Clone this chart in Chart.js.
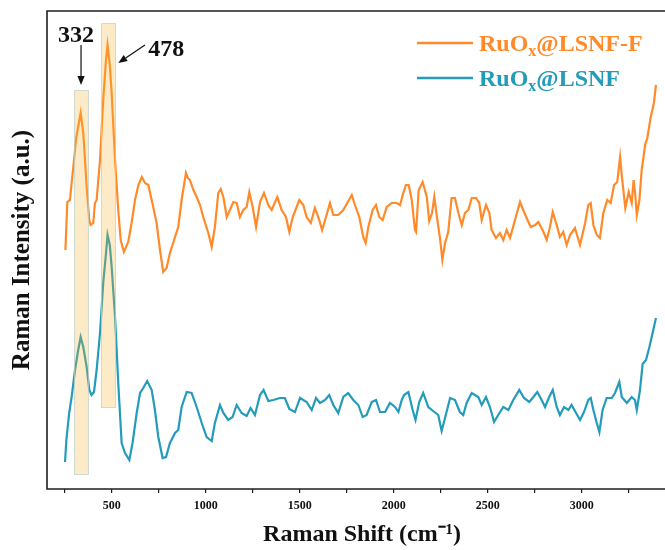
<!DOCTYPE html>
<html><head><meta charset="utf-8">
<script src="https://cdn.jsdelivr.net/npm/chart.js@4/dist/chart.umd.min.js"></script>
<style>html,body{margin:0;padding:0;background:#fff}canvas{display:block}</style>
</head><body>
<canvas id="c" width="665" height="550"></canvas>
<script>
// ---- data (Raman shift in cm^-1, intensity in arbitrary units) ----
const shiftF = [254,264,278,305,312,335,349,367,381,388,402,411,420,438,455,469,478,490,500,518,535,548,565,588,606,624,642,660,677,695,721,739,757,774,792,810,837,854,872,895,905,916,935,952,970,987,1014,1032,1049,1067,1080,1094,1112,1129,1147,1165,1182,1200,1218,1232,1250,1268,1289,1310,1333,1351,1381,1404,1427,1445,1463,1498,1519,1537,1559,1581,1604,1619,1640,1661,1679,1705,1732,1753,1777,1794,1817,1838,1851,1865,1888,1906,1923,1941,1963,1989,2016,2034,2051,2065,2080,2096,2113,2119,2133,2154,2176,2189,2204,2216,2230,2246,2259,2273,2290,2308,2326,2344,2362,2379,2397,2415,2438,2455,2468,2491,2509,2521,2544,2565,2583,2601,2619,2645,2672,2689,2707,2729,2752,2769,2792,2814,2831,2846,2867,2884,2902,2920,2938,2964,2991,3018,3035,3048,3062,3080,3097,3115,3136,3154,3172,3189,3204,3214,3232,3250,3266,3276,3285,3293,3307,3319,3328,3337,3349,3367,3384,3395];
const intensityF = [239,287,289,339,352,376,356,302,269,264,266,286,289,329,389,427,444,424,396,329,279,249,237,247,266,289,304,312,306,304,282,266,239,217,221,236,252,262,289,316,311,309,299,292,284,272,256,242,262,296,300,292,272,279,287,286,272,279,282,297,282,262,287,296,284,279,292,279,272,257,272,289,284,272,266,281,269,259,272,286,274,274,279,286,294,284,272,252,246,262,279,284,272,269,282,286,286,284,296,304,304,289,259,257,299,307,292,268,276,292,272,251,229,246,257,291,291,276,264,276,279,291,291,286,269,284,276,259,251,256,249,259,251,269,287,279,271,262,264,267,259,249,262,277,264,252,257,244,254,261,244,266,284,286,264,254,251,276,289,286,304,307,332,312,281,297,286,309,294,274,289,319,331,344,351,372,386,404];
const shiftP = [252,259,274,287,305,322,335,349,367,381,393,406,420,438,455,469,478,490,500,518,535,553,571,594,611,633,651,668,689,713,730,748,771,789,810,837,854,872,899,925,952,979,1005,1032,1049,1076,1094,1120,1143,1165,1191,1218,1239,1262,1289,1308,1333,1360,1395,1421,1445,1475,1502,1537,1564,1587,1608,1635,1657,1679,1705,1732,1758,1785,1812,1835,1856,1883,1906,1927,1954,1980,2007,2025,2043,2055,2078,2101,2116,2136,2157,2184,2210,2237,2255,2273,2300,2326,2352,2370,2388,2415,2450,2468,2491,2512,2534,2556,2583,2610,2636,2668,2693,2721,2743,2764,2787,2805,2827,2846,2867,2884,2906,2929,2946,2970,2991,3012,3035,3048,3062,3080,3094,3111,3133,3160,3177,3200,3213,3240,3266,3283,3293,3310,3324,3342,3360,3377,3395];
const intensityP = [27,49,76,92,119,139,152,142,122,99,94,97,119,156,206,234,254,244,222,172,106,46,36,29,46,76,96,101,108,99,79,52,31,32,46,56,59,82,97,96,82,66,52,48,66,84,76,69,72,84,76,73,81,74,94,99,88,89,91,91,80,77,91,87,79,91,86,89,94,84,76,92,96,89,84,72,74,87,89,77,77,86,82,77,89,94,97,79,69,87,96,82,78,74,58,71,91,89,77,74,86,96,92,84,92,82,67,74,82,79,89,99,91,87,92,97,89,82,92,99,82,74,82,79,84,76,69,77,89,91,79,66,57,79,91,91,96,107,92,86,92,89,79,99,125,129,142,156,171];
const seriesNames = ['RuO', 'RuO'];
const seriesSuffix = ['@LSNF-F', '@LSNF'];
const xTickValues = [250,500,750,1000,1250,1500,1750,2000,2250,2500,2750,3000,3250];
const xTickLabels = [500,1000,1500,2000,2500,3000];
const peakLabels = ['332','478'];
const peakShifts = [332,478];

// highlight bands (data units): [xFrom, xTo, yFrom, yTo]
const bands = [[300,379,14,399],[443,523,81,466]];

const ORANGE = '#FF8A2A';
const TEAL = '#239BBA';
const SERIF = '"Liberation Serif","Times New Roman",serif';

const pts = (xs, ys) => xs.map((x, i) => ({x, y: ys[i]}));

const decor = {
  id: 'decor',
  afterDatasetsDraw(chart) {
    const {ctx, scales: {x, y}} = chart;
    ctx.save();
    bands.forEach(b => {
      const x0 = x.getPixelForValue(b[0]), x1 = x.getPixelForValue(b[1]);
      const y0 = y.getPixelForValue(b[3]), y1 = y.getPixelForValue(b[2]);
      ctx.fillStyle = 'rgba(249,179,46,0.27)';
      ctx.fillRect(x0, y0, x1 - x0, y1 - y0);
      ctx.strokeStyle = 'rgba(185,212,212,0.7)';
      ctx.lineWidth = 1;
      ctx.strokeRect(x0 + 0.5, y0 + 0.5, x1 - x0 - 1, y1 - y0 - 1);
    });
    ctx.restore();
  },
  afterDraw(chart) {
    const {ctx, chartArea: a, scales: {x, y}} = chart;
    ctx.save();
    // frame (left, top, bottom)
    ctx.strokeStyle = '#1e1e1e';
    ctx.lineWidth = 1.6;
    ctx.beginPath();
    ctx.moveTo(a.right + 2, a.top);
    ctx.lineTo(a.left, a.top);
    ctx.lineTo(a.left, a.bottom);
    ctx.lineTo(a.right + 2, a.bottom);
    ctx.stroke();

    // peak annotations
    const arrow = (fx, fy, tx, ty) => {
      const X0 = x.getPixelForValue(fx), Y0 = y.getPixelForValue(fy);
      const X1 = x.getPixelForValue(tx), Y1 = y.getPixelForValue(ty);
      const ang = Math.atan2(Y1 - Y0, X1 - X0);
      const L = 9, W = 3.6;
      ctx.strokeStyle = '#111'; ctx.fillStyle = '#111'; ctx.lineWidth = 1.2;
      ctx.beginPath();
      ctx.moveTo(X0, Y0);
      ctx.lineTo(X1 - L * Math.cos(ang), Y1 - L * Math.sin(ang));
      ctx.stroke();
      ctx.beginPath();
      ctx.moveTo(X1, Y1);
      ctx.lineTo(X1 - L * Math.cos(ang) + W * Math.sin(ang), Y1 - L * Math.sin(ang) - W * Math.cos(ang));
      ctx.lineTo(X1 - L * Math.cos(ang) - W * Math.sin(ang), Y1 - L * Math.sin(ang) + W * Math.cos(ang));
      ctx.closePath();
      ctx.fill();
    };
    ctx.font = 'bold 24px ' + SERIF;
    ctx.fillStyle = '#111';
    ctx.textBaseline = 'alphabetic';
    ctx.textAlign = 'center';
    ctx.fillText(peakLabels[0], x.getPixelForValue(310), y.getPixelForValue(447));
    arrow(337, 444, 337, 404);
    ctx.fillText(peakLabels[1], x.getPixelForValue(790), y.getPixelForValue(433));
    arrow(677, 444, 535, 426);

    // legend
    const colors = [ORANGE, TEAL];
    const lineY = [43, 78];
    const baseY = [51, 86];
    colors.forEach((c, i) => {
      ctx.strokeStyle = c; ctx.lineWidth = 2.5;
      ctx.beginPath(); ctx.moveTo(417, lineY[i]); ctx.lineTo(473, lineY[i]); ctx.stroke();
      ctx.fillStyle = c;
      ctx.textAlign = 'left';
      ctx.font = 'bold 24px ' + SERIF;
      let px = 479;
      ctx.fillText(seriesNames[i], px, baseY[i]);
      px += ctx.measureText(seriesNames[i]).width;
      ctx.font = 'bold 16px ' + SERIF;
      ctx.fillText('x', px, baseY[i] + 5);
      px += ctx.measureText('x').width;
      ctx.font = 'bold 24px ' + SERIF;
      ctx.fillText(seriesSuffix[i], px, baseY[i]);
    });
    ctx.restore();
  }
};

new Chart(document.getElementById('c'), {
  type: 'line',
  data: {
    datasets: [
      {label: 'RuOx@LSNF-F', data: pts(shiftF, intensityF), borderColor: ORANGE, borderWidth: 2.2, pointRadius: 0, tension: 0, fill: false},
      {label: 'RuOx@LSNF', data: pts(shiftP, intensityP), borderColor: TEAL, borderWidth: 2.2, pointRadius: 0, tension: 0, fill: false}
    ]
  },
  options: {
    responsive: false,
    animation: false,
    devicePixelRatio: 1,
    layout: {padding: {top: 11, left: 0, right: 0, bottom: 0}},
    plugins: {legend: {display: false}, tooltip: {enabled: false}},
    scales: {
      x: {
        type: 'linear', position: 'bottom', min: 156, max: 3443,
        afterFit: s => { s.height = 61; },
        afterBuildTicks: s => { s.ticks = xTickValues.map(v => ({value: v})); },
        border: {display: false},
        grid: {drawOnChartArea: false, drawTicks: true, tickLength: 4, color: '#1e1e1e', lineWidth: 1.2},
        ticks: {
          autoSkip: false, maxRotation: 0, padding: 6,
          color: '#111', font: {family: SERIF, size: 12, weight: 'bold'},
          callback: v => xTickLabels.includes(v) ? String(v) : ''
        },
        title: {display: true, text: '\u2002Raman Shift (cm\u207B\u00B9)', color: '#111',
          font: {family: SERIF, size: 24, weight: 'bold'}, padding: {top: 0, bottom: 1}}
      },
      y: {
        type: 'linear', min: 0, max: 478,
        afterFit: s => { s.width = 47; },
        border: {display: false},
        grid: {display: false},
        ticks: {display: false},
        title: {display: true, text: 'Raman Intensity (a.u.)', color: '#111',
          font: {family: SERIF, size: 25, weight: 'bold'}, padding: {top: 8, bottom: 0}}
      }
    }
  },
  plugins: [decor]
});
</script>
</body></html>
